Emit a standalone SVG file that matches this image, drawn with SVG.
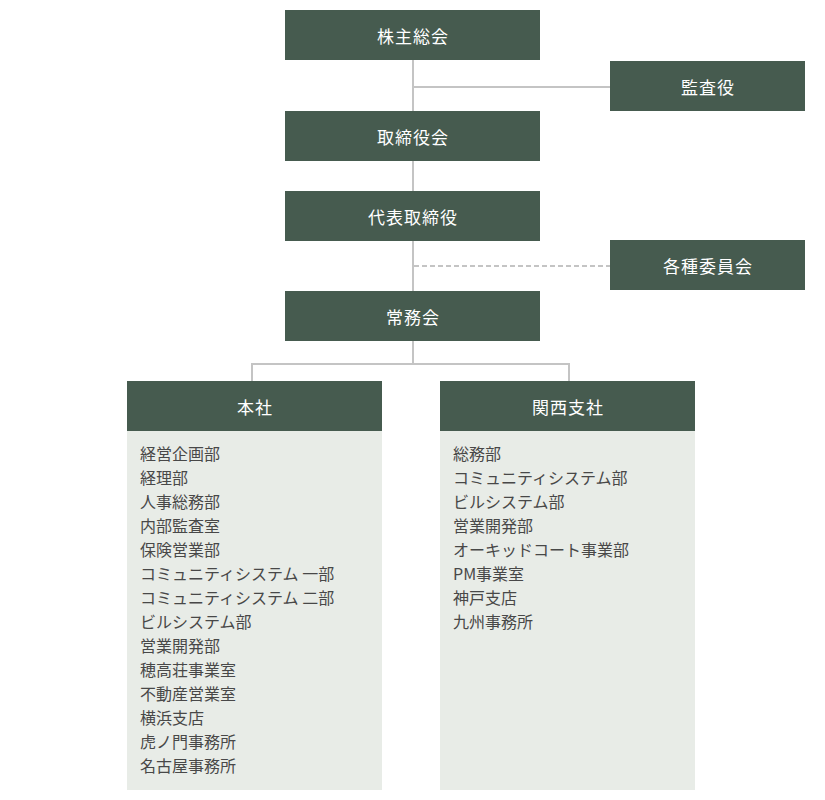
<svg xmlns="http://www.w3.org/2000/svg" width="825" height="800" viewBox="0 0 825 800">
<style>
.box{fill:#465b4f}
.panel{fill:#e8ece7}
.lbl{font-family:"Noto Sans CJK JP","Noto Sans",sans-serif;font-size:17px;letter-spacing:1px;fill:#ffffff;text-anchor:middle;dominant-baseline:central}
.item{font-family:"Noto Sans CJK JP","Noto Sans",sans-serif;font-size:16px;fill:#484848}
.ln{stroke:#c4c4c4;stroke-width:2;fill:none}
.dash{stroke:#c4c4c4;stroke-width:2;fill:none;stroke-dasharray:5 3}
</style>
<rect width="825" height="800" fill="#ffffff"/>
<g id="connectors">
<line class="ln" x1="413" y1="60" x2="413" y2="111"/>
<line class="ln" x1="413" y1="87" x2="610" y2="87"/>
<line class="ln" x1="413" y1="160" x2="413" y2="191"/>
<line class="ln" x1="413" y1="240" x2="413" y2="291"/>
<line class="dash" x1="414" y1="266" x2="610" y2="266"/>
<line class="ln" x1="413" y1="340" x2="413" y2="364"/>
<polyline class="ln" points="252,381 252,364 569,364 569,381"/>
</g>
<g id="kabunushi"><rect class="box" x="285" y="10" width="255" height="50"/><text class="lbl" x="413" y="35">株主総会</text></g>
<g id="kansayaku"><rect class="box" x="610" y="61" width="195" height="50"/><text class="lbl" x="708" y="86">監査役</text></g>
<g id="torishimariyakukai"><rect class="box" x="285" y="111" width="255" height="50"/><text class="lbl" x="413" y="136">取締役会</text></g>
<g id="daihyo"><rect class="box" x="285" y="191" width="255" height="50"/><text class="lbl" x="413" y="216">代表取締役</text></g>
<g id="iinkai"><rect class="box" x="610" y="240" width="195" height="50"/><text class="lbl" x="708" y="265">各種委員会</text></g>
<g id="jomukai"><rect class="box" x="285" y="291" width="255" height="50"/><text class="lbl" x="413" y="316">常務会</text></g>
<g id="honsha">
<rect class="box" x="127" y="381" width="255" height="50"/><text class="lbl" x="255" y="406">本社</text>
<rect class="panel" x="127" y="431" width="255" height="359"/>
<text class="item" x="140" y="460">経営企画部</text>
<text class="item" x="140" y="484">経理部</text>
<text class="item" x="140" y="508">人事総務部</text>
<text class="item" x="140" y="532">内部監査室</text>
<text class="item" x="140" y="556">保険営業部</text>
<text class="item" x="140" y="580">コミュニティシステム 一部</text>
<text class="item" x="140" y="604">コミュニティシステム 二部</text>
<text class="item" x="140" y="628">ビルシステム部</text>
<text class="item" x="140" y="652">営業開発部</text>
<text class="item" x="140" y="676">穂高荘事業室</text>
<text class="item" x="140" y="700">不動産営業室</text>
<text class="item" x="140" y="724">横浜支店</text>
<text class="item" x="140" y="748">虎ノ門事務所</text>
<text class="item" x="140" y="772">名古屋事務所</text>
</g>
<g id="kansai">
<rect class="box" x="440" y="381" width="255" height="50"/><text class="lbl" x="568" y="406">関西支社</text>
<rect class="panel" x="440" y="431" width="255" height="359"/>
<text class="item" x="453" y="460">総務部</text>
<text class="item" x="453" y="484">コミュニティシステム部</text>
<text class="item" x="453" y="508">ビルシステム部</text>
<text class="item" x="453" y="532">営業開発部</text>
<text class="item" x="453" y="556">オーキッドコート事業部</text>
<text class="item" x="453" y="580">PM事業室</text>
<text class="item" x="453" y="604">神戸支店</text>
<text class="item" x="453" y="628">九州事務所</text>
</g>
</svg>
